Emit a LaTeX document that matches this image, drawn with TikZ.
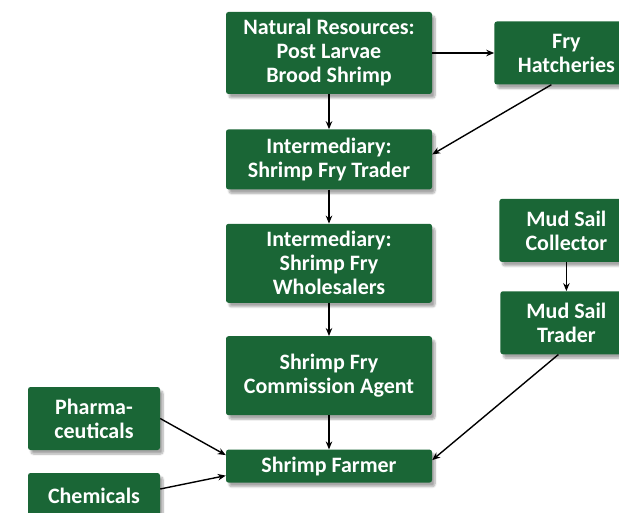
\documentclass[tikz,border=0pt]{standalone}
\usepackage{fontspec}
\setmainfont{Carlito}
\usepackage{tikz}
\usetikzlibrary{positioning,arrows.meta,shadows.blur}

\definecolor{shrimpgreen}{RGB}{26,102,54}

\tikzset{
  box/.style={fill=shrimpgreen, text=white, rounded corners=2.5pt, align=center,
    font=\bfseries\fontsize{22}{24}\selectfont, inner sep=2pt,
    minimum width=206pt, blur shadow={shadow xshift=3pt, shadow yshift=-4pt,
    shadow blur steps=8, shadow opacity=35}},
  link/.style={-{Stealth[length=8pt,width=6.5pt]}, line width=1.4pt, black}
}

\begin{document}
\begin{tikzpicture}[x=1pt, y=-1pt]
      \useasboundingbox (0,0) rectangle (619,513);
      \clip (0,0) rectangle (619,513);
        \node [box, minimum height=82pt] (nat) at (329,53) {Natural Resources:\\Post Larvae\\Brood Shrimp};
        \node [box, minimum height=63pt, minimum width=144pt, right=62pt of nat] (fry) {Fry\\Hatcheries};
        \node [box, minimum height=60pt, below=35pt of nat] (trd) {Intermediary:\\Shrimp Fry Trader};
        \node [box, minimum height=79pt, below=34pt of trd] (whl) {Intermediary:\\Shrimp Fry\\Wholesalers};
        \node [box, minimum height=79pt, below=33pt of whl] (agt) {Shrimp Fry\\Commission Agent};
        \node [box, minimum height=33pt, below=34pt of agt] (frm) {Shrimp Farmer};
        \node [box, minimum height=63pt, minimum width=132pt] (pha) at (94,418.5) {Pharma-\\ceuticals};
        \node [box, minimum height=46pt, minimum width=132pt] (chm) at (94,496) {Chemicals};
        \node [box, minimum height=63pt, minimum width=134pt, below=114pt of fry] (msc) {Mud Sail\\Collector};
        \node [box, minimum height=63pt, minimum width=132pt, below=29pt of msc] (mst) {Mud Sail\\Trader};

        \draw [link] (nat) -- (trd);
        \draw [link] (nat) -- (fry);
        \draw [link] ([xshift=-15pt]fry.south) -- ([yshift=5pt]trd.east);
        \draw [link] (trd) -- (whl);
        \draw [link] (whl) -- (agt);
        \draw [link] (agt) -- (frm);
        \draw [link] (msc) -- (mst);
        \draw [link] ([xshift=-8pt]mst.south) -- ([yshift=6pt]frm.east);
        \draw [link] (pha.east) -- ([yshift=11pt]frm.west);
        \draw [link] ([yshift=7pt]chm.east) -- ([yshift=-9.5pt]frm.west);
    \end{tikzpicture}
\end{document}
